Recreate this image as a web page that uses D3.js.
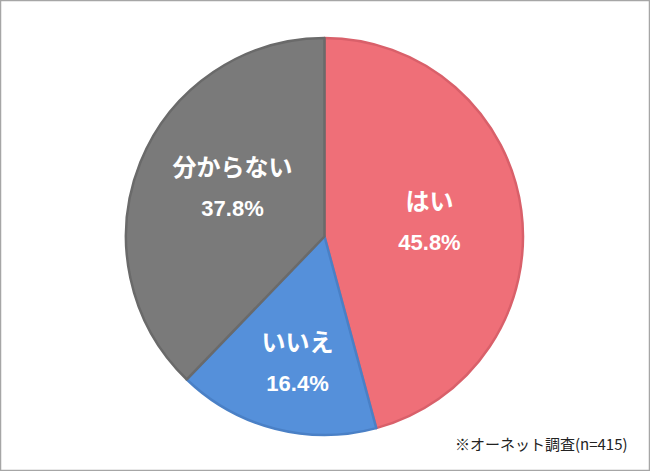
<!DOCTYPE html>
<html><head><meta charset="utf-8">
<script src="https://cdn.jsdelivr.net/npm/d3@7"></script>
<style>body{margin:0;background:#fff;}svg{display:block;}</style>
</head><body>
<script>
const categories = ["はい", "いいえ", "分からない"];
const values = [45.8, 16.4, 37.8];
const valueLabels = ["45.8%", "16.4%", "37.8%"];
const colors = ["#EF6F78", "#5590DA", "#7A7A7A"];
const strokes = ["#D9606A", "#4A80C6", "#6A6A6A"];
const note = "※オーネット調査(n=415)";

const W = 650, H = 471;
const svg = d3.select("body").append("svg").attr("width", W).attr("height", H);
svg.append("rect").attr("x", 0.5).attr("y", 0.5).attr("width", W - 1).attr("height", H - 1)
  .attr("fill", "#fff").attr("stroke", "#A6A6A6").attr("stroke-width", 1.5);

const cx = 324.5, cy = 236.5, r = 198.5;
const data = categories.map((c, i) => ({c, v: values[i], lab: valueLabels[i], i}));
const pie = d3.pie().sort(null).value(d => d.v);
const arc = d3.arc().innerRadius(0).outerRadius(r);
const g = svg.append("g").attr("transform", `translate(${cx},${cy})`);
const arcs = pie(data);
g.selectAll("path").data(arcs).enter().append("path")
  .attr("d", arc).attr("fill", d => colors[d.data.i])
  .attr("stroke", d => strokes[d.data.i]).attr("stroke-width", 2.5).attr("stroke-linejoin", "round");

const labelPos = [[105, -27], [-27, 114], [-92, -61]];
const font = "'Noto Sans CJK JP', 'Noto Sans', sans-serif";
arcs.forEach((d, k) => {
  const [x, y] = labelPos[k];
  g.append("text").attr("x", x).attr("y", y).attr("text-anchor", "middle")
    .attr("font-family", font).attr("font-weight", "bold").attr("font-size", 24)
    .attr("fill", "#fff").text(d.data.c);
  g.append("text").attr("x", x).attr("y", y + 40).attr("text-anchor", "middle")
    .attr("font-family", "'Liberation Sans', Arial, sans-serif").attr("font-weight", "bold").attr("font-size", 22)
    .attr("fill", "#fff").text(d.data.lab);
});

svg.append("text").attr("x", 455).attr("y", 450)
  .attr("font-family", font).attr("font-size", 15).attr("fill", "#222").text(note);
</script>
</body></html>
